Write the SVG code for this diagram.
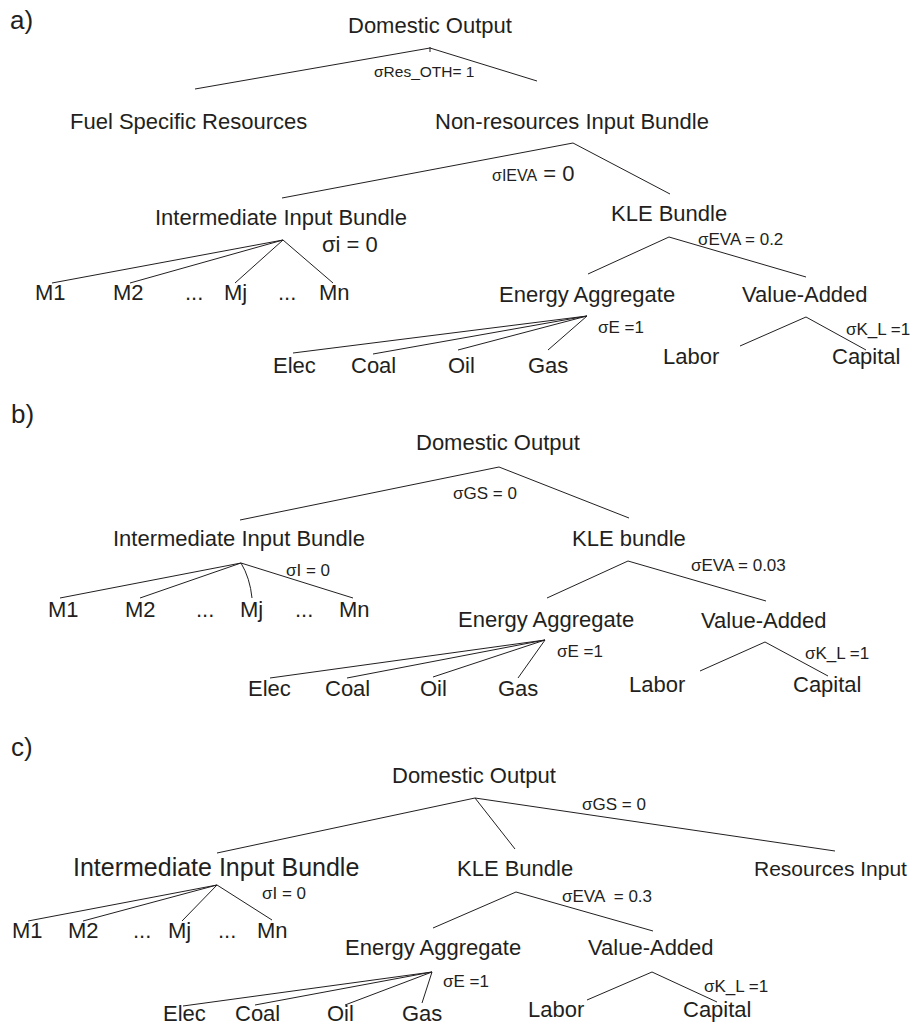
<svg xmlns="http://www.w3.org/2000/svg" width="920" height="1027" viewBox="0 0 920 1027">
<style>
text{font-family:"Liberation Sans",Arial,Helvetica,sans-serif;fill:#231f20}
.n{font-size:22px}
.nc{font-size:25px}
.s{font-size:17px}
.p{font-size:26px}
.c line,.c path{stroke:#231f20;stroke-width:1;fill:none}
</style>
<rect width="920" height="1027" fill="#fff"/>
<g id="connectors" class="c">
<!-- panel a -->
<line x1="430" y1="48" x2="195" y2="89"/>
<line x1="430" y1="48" x2="537" y2="81"/>
<line x1="430" y1="47" x2="430" y2="52"/>
<line x1="573" y1="143" x2="282" y2="198"/>
<line x1="573" y1="143" x2="670" y2="194"/>
<line x1="283" y1="240" x2="52" y2="283"/>
<line x1="283" y1="240" x2="130" y2="283"/>
<line x1="283" y1="240" x2="235" y2="283"/>
<line x1="283" y1="240" x2="333" y2="283"/>
<line x1="669" y1="237" x2="588" y2="274"/>
<line x1="669" y1="237" x2="806" y2="277"/>
<line x1="587" y1="316" x2="293" y2="353"/>
<line x1="587" y1="316" x2="373" y2="354"/>
<line x1="587" y1="316" x2="458" y2="350"/>
<line x1="587" y1="316" x2="548" y2="350"/>
<line x1="806" y1="317" x2="740" y2="346"/>
<line x1="806" y1="317" x2="866" y2="350"/>
<!-- panel b -->
<line x1="499" y1="467" x2="240" y2="520"/>
<line x1="499" y1="467" x2="629" y2="518"/>
<line x1="241" y1="563" x2="60" y2="598"/>
<line x1="241" y1="563" x2="140" y2="598"/>
<path d="M241 563 Q250 578 252 598"/>
<line x1="241" y1="563" x2="353" y2="598"/>
<line x1="628" y1="561" x2="547" y2="598"/>
<line x1="628" y1="561" x2="766" y2="601"/>
<line x1="545" y1="640" x2="270" y2="678"/>
<line x1="545" y1="640" x2="347" y2="678"/>
<line x1="545" y1="640" x2="433" y2="677"/>
<line x1="545" y1="640" x2="518" y2="678"/>
<line x1="765" y1="642" x2="700" y2="671"/>
<line x1="765" y1="642" x2="828" y2="676"/>
<!-- panel c -->
<line x1="475" y1="798" x2="217" y2="853"/>
<line x1="475" y1="798" x2="515" y2="849"/>
<line x1="475" y1="798" x2="835" y2="851"/>
<line x1="217" y1="885" x2="28" y2="921"/>
<line x1="217" y1="885" x2="83" y2="921"/>
<line x1="217" y1="885" x2="182" y2="921"/>
<line x1="217" y1="885" x2="272" y2="920"/>
<line x1="516" y1="892" x2="433" y2="928"/>
<line x1="516" y1="892" x2="653" y2="931"/>
<line x1="432" y1="972" x2="183" y2="1006"/>
<line x1="432" y1="972" x2="255" y2="1005"/>
<line x1="432" y1="972" x2="345" y2="1005"/>
<line x1="432" y1="972" x2="422" y2="1003"/>
<line x1="652" y1="972" x2="587" y2="1000"/>
<line x1="652" y1="972" x2="717" y2="1002"/>
</g>

<!-- panel labels -->
<g id="label-a"><text class="p" x="10" y="29">a)</text></g>
<g id="label-b"><text class="p" x="11" y="423">b)</text></g>
<g id="label-c"><text class="p" x="11" y="756">c)</text></g>

<!-- panel a nodes -->
<g id="a-domestic-output"><text class="n" x="348" y="33">Domestic Output</text><text x="374" y="77" style="font-size:15.5px">σRes_OTH= 1</text></g>
<g id="a-fuel-specific"><text class="n" x="70" y="129">Fuel Specific Resources</text></g>
<g id="a-nonresources"><text class="n" x="435" y="129">Non-resources Input Bundle</text><text x="492" y="181"><tspan style="font-size:16px">σIEVA</tspan><tspan class="n"> = 0</tspan></text></g>
<g id="a-intermediate"><text class="n" x="155" y="225">Intermediate Input Bundle</text><text class="n" x="322" y="252">σi = 0</text></g>
<g id="a-m1"><text class="n" x="35" y="300">M1</text></g>
<g id="a-m2"><text class="n" x="113" y="300">M2</text></g>
<g id="a-dots1"><text class="n" x="185" y="300">...</text></g>
<g id="a-mj"><text class="n" x="224" y="300">Mj</text></g>
<g id="a-dots2"><text class="n" x="278" y="300">...</text></g>
<g id="a-mn"><text class="n" x="319" y="300">Mn</text></g>
<g id="a-kle"><text class="n" x="611" y="221">KLE Bundle</text><text class="s" x="698" y="245">σEVA = 0.2</text></g>
<g id="a-energy"><text class="n" x="499" y="302">Energy Aggregate</text><text class="s" x="598" y="333">σE =1</text></g>
<g id="a-value-added"><text class="n" x="742" y="302">Value-Added</text><text class="s" x="846" y="335">σK_L =1</text></g>
<g id="a-elec"><text class="n" x="273" y="373">Elec</text></g>
<g id="a-coal"><text class="n" x="351" y="373">Coal</text></g>
<g id="a-oil"><text class="n" x="448" y="373">Oil</text></g>
<g id="a-gas"><text class="n" x="528" y="373">Gas</text></g>
<g id="a-labor"><text class="n" x="663" y="364">Labor</text></g>
<g id="a-capital"><text class="n" x="832" y="364">Capital</text></g>

<!-- panel b nodes -->
<g id="b-domestic-output"><text class="n" x="416" y="450">Domestic Output</text><text class="s" x="453" y="499">σGS = 0</text></g>
<g id="b-intermediate"><text class="n" x="113" y="546">Intermediate Input Bundle</text><text class="s" x="286" y="576">σI = 0</text></g>
<g id="b-m1"><text class="n" x="48" y="617">M1</text></g>
<g id="b-m2"><text class="n" x="125" y="617">M2</text></g>
<g id="b-dots1"><text class="n" x="196" y="617">...</text></g>
<g id="b-mj"><text class="n" x="240" y="617">Mj</text></g>
<g id="b-dots2"><text class="n" x="295" y="617">...</text></g>
<g id="b-mn"><text class="n" x="339" y="617">Mn</text></g>
<g id="b-kle"><text class="n" x="572" y="546">KLE bundle</text><text class="s" x="691" y="571">σEVA = 0.03</text></g>
<g id="b-energy"><text class="n" x="458" y="627">Energy Aggregate</text><text class="s" x="557" y="657">σE =1</text></g>
<g id="b-value-added"><text class="n" x="701" y="628">Value-Added</text><text class="s" x="805" y="659">σK_L =1</text></g>
<g id="b-elec"><text class="n" x="248" y="696">Elec</text></g>
<g id="b-coal"><text class="n" x="325" y="696">Coal</text></g>
<g id="b-oil"><text class="n" x="420" y="696">Oil</text></g>
<g id="b-gas"><text class="n" x="498" y="696">Gas</text></g>
<g id="b-labor"><text class="n" x="629" y="692">Labor</text></g>
<g id="b-capital"><text class="n" x="793" y="692">Capital</text></g>

<!-- panel c nodes -->
<g id="c-domestic-output"><text class="n" x="392" y="783">Domestic Output</text><text class="s" x="582" y="810">σGS = 0</text></g>
<g id="c-intermediate"><text class="nc" x="73" y="876">Intermediate Input Bundle</text><text class="s" x="262" y="899">σI = 0</text></g>
<g id="c-kle"><text class="n" x="457" y="876">KLE Bundle</text><text class="s" x="562" y="902" xml:space="preserve">σEVA  = 0.3</text></g>
<g id="c-resources"><text class="n" x="754" y="876" style="font-size:21px">Resources Input</text></g>
<g id="c-m1"><text class="n" x="12" y="938">M1</text></g>
<g id="c-m2"><text class="n" x="68" y="938">M2</text></g>
<g id="c-dots1"><text class="n" x="133" y="938">...</text></g>
<g id="c-mj"><text class="n" x="168" y="938">Mj</text></g>
<g id="c-dots2"><text class="n" x="218" y="938">...</text></g>
<g id="c-mn"><text class="n" x="257" y="938">Mn</text></g>
<g id="c-energy"><text class="n" x="345" y="955">Energy Aggregate</text><text class="s" x="443" y="987">σE =1</text></g>
<g id="c-value-added"><text class="n" x="588" y="955">Value-Added</text><text class="s" x="704" y="992">σK_L =1</text></g>
<g id="c-elec"><text class="n" x="163" y="1021">Elec</text></g>
<g id="c-coal"><text class="n" x="235" y="1021">Coal</text></g>
<g id="c-oil"><text class="n" x="327" y="1021">Oil</text></g>
<g id="c-gas"><text class="n" x="402" y="1021">Gas</text></g>
<g id="c-labor"><text class="n" x="528" y="1017">Labor</text></g>
<g id="c-capital"><text class="n" x="683" y="1017">Capital</text></g>
</svg>
